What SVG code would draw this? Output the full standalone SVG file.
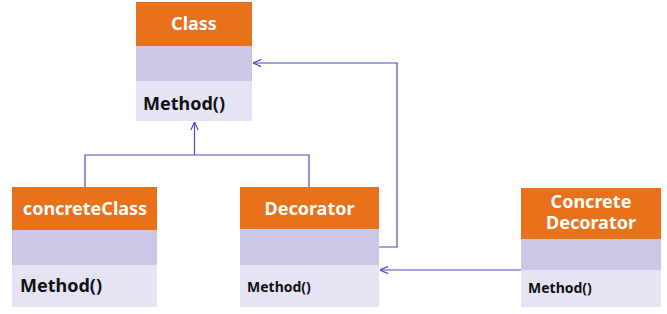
<svg xmlns="http://www.w3.org/2000/svg" width="667" height="314" viewBox="0 0 667 314">
<defs>
<style>
.hd{fill:#e8711b}
.at{fill:#cbc8e7}
.mt{fill:#e6e4f4}
.t{font-family:"Noto Sans","Noto Sans CJK KR",sans-serif;font-weight:bold;fill:#fff;font-size:18px;text-anchor:middle}
.m{font-family:"Noto Sans","Noto Sans CJK KR",sans-serif;font-weight:bold;fill:#111;font-size:18px}
.ms{font-family:"Noto Sans","Noto Sans CJK KR",sans-serif;font-weight:bold;fill:#111;font-size:14px}
.c{fill:none;stroke:#4b4bc6;stroke-width:1.2}
</style>
<marker id="ar" viewBox="0 0 10 10" refX="10" refY="5" markerWidth="9" markerHeight="9" orient="auto" markerUnits="userSpaceOnUse">
<path d="M1,1 L10,5 L1,9" fill="none" stroke="#4b4bc6" stroke-width="1.3"/>
</marker>
</defs>
<g id="connectors">
<path class="c" d="M85,187 V155 H309 V187"/>
<path class="c" d="M194.5,155 V122" marker-end="url(#ar)"/>
<path class="c" d="M379,247 H397 V63 H253" marker-end="url(#ar)"/>
<path class="c" d="M521,270 H380" marker-end="url(#ar)"/>
</g>
<g id="class">
<rect class="hd" x="136" y="2" width="116" height="44"/>
<rect class="at" x="136" y="46" width="116" height="35"/>
<rect class="mt" x="136" y="81" width="116" height="40"/>
<text class="t" x="194" y="30">Class</text>
<text class="m" x="143" y="110">Method()</text>
</g>
<g id="concreteClass">
<rect class="hd" x="12" y="187" width="145" height="43"/>
<rect class="at" x="12" y="230" width="145" height="35"/>
<rect class="mt" x="12" y="265" width="145" height="42"/>
<text class="t" x="85" y="215">concreteClass</text>
<text class="m" x="20" y="292">Method()</text>
</g>
<g id="decorator">
<rect class="hd" x="240" y="187" width="139" height="42"/>
<rect class="at" x="240" y="229" width="139" height="36"/>
<rect class="mt" x="240" y="265" width="139" height="42"/>
<text class="t" x="309.5" y="215">Decorator</text>
<text class="ms" x="247" y="291.5">Method()</text>
</g>
<g id="concreteDecorator">
<rect class="hd" x="521" y="188" width="140" height="51"/>
<rect class="at" x="521" y="239" width="140" height="31"/>
<rect class="mt" x="521" y="270" width="140" height="37"/>
<text class="t" x="591" y="208">Concrete</text>
<text class="t" x="591" y="229">Decorator</text>
<text class="ms" x="528" y="293">Method()</text>
</g>
</svg>
